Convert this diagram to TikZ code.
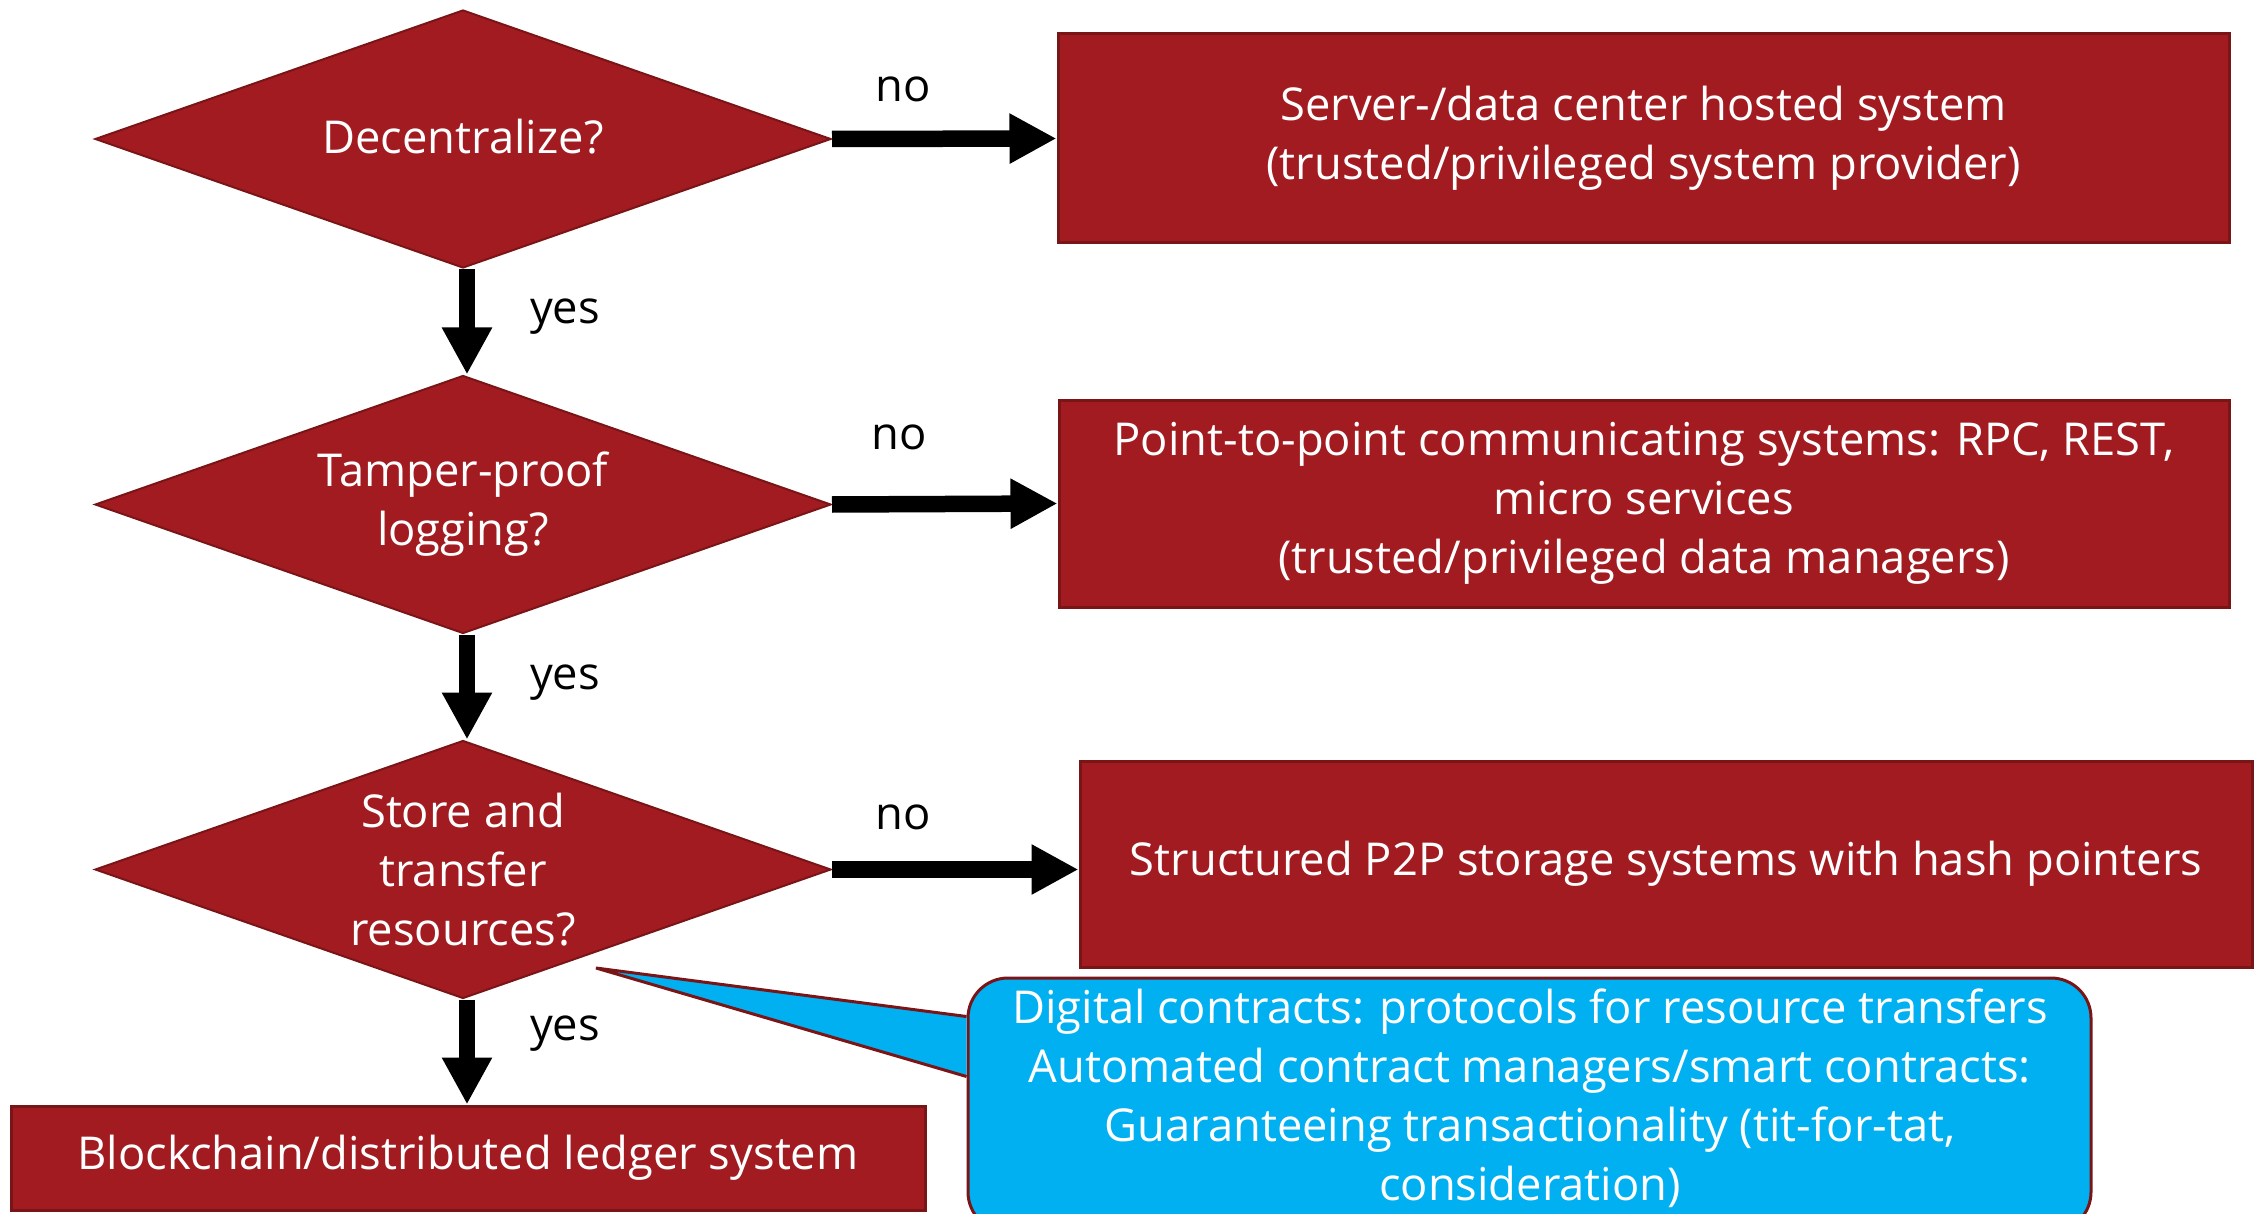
\documentclass[tikz,border=0pt]{standalone}
\usepackage{fontspec}
\setmainfont{Open Sans}
\usetikzlibrary{shapes.geometric,arrows.meta,calc}
\definecolor{boxred}{HTML}{A21B20}
\definecolor{edgered}{HTML}{7A1517}
\definecolor{callblue}{HTML}{00B0F0}
\begin{document}
\begin{tikzpicture}[x=1pt,y=-1pt,
 base/.style={font=\fontsize{45.3}{59}\selectfont, align=center, text=white},
 decision/.style={base, shape=diamond, fill=boxred, draw=edgered, line width=2pt,
   minimum width=736pt, minimum height=258pt, shape aspect=2.85, inner sep=0pt},
 result/.style={base, rectangle, fill=boxred, draw=edgered, line width=3pt, inner sep=0pt},
 callbox/.style={rectangle, rounded corners=40pt, fill=callblue, draw=edgered, line width=3pt},
 flow/.style={line width=16.5pt, -{Triangle[length=47pt,width=47pt]}},
 lbl/.style={font=\fontsize{45.3}{59}\selectfont, text=black}]
\useasboundingbox (0,0) rectangle (2259,1214);
\clip (0,0) rectangle (2259,1214);

% decisions
\node[decision] (d1) at (463,139) {\raisebox{5pt}{Decentralize?}};
\node[decision] (d2) at (463,504.5) {Tamper-proof\\logging?};
\node[decision] (d3) at (463,869.5) {Store and\\transfer\\resources?};

% results
\node[result, minimum width=1171pt, minimum height=209pt] (b1) at (1643.5,138.5)
  {Server-/data center hosted system\\(trusted/privileged system provider)};
\node[result, minimum width=1170pt, minimum height=207pt] (b2) at (1644,503.5)
  {Point-to-point communicating systems: RPC, REST,\\micro services\\(trusted/privileged data managers)};
\node[result, minimum width=1172pt, minimum height=206pt] (b3) at (1666,864)
  {Structured P2P storage systems with hash pointers};
\node[result, minimum width=914pt, minimum height=104pt] (b4) at (468,1158)
  {Blockchain/distributed ledger system};

% connectors
\draw[flow] (d1.east) -- (b1.west);
\draw[flow] (d2.east) -- (b2.west);
\draw[flow] (d3.east) -- (d3.east -| b3.west);
\draw[flow] ([xshift=4pt]d1.south) -- ([xshift=4pt]d2.north);
\draw[flow] ([xshift=4pt]d2.south) -- ([xshift=4pt]d3.north);
\draw[flow] ([xshift=4pt]d3.south) -- ([xshift=4pt]d3.south |- b4.north);

% labels
\node[lbl] (n1) at (903,89) {no};
\node[lbl] (n2) at (899,437) {no};
\node[lbl] (n3) at (903,817) {no};
\node[lbl] (y1) at (565,317) {yes};
\node[lbl] (y2) at (565,683) {yes};
\node[lbl] (y3) at (565,1034) {yes};

% callout
\node[callbox, minimum width=1123pt, minimum height=254pt] (co) at (1529.5,1105) {};
\coordinate (tip) at (596,968);
\fill[callblue] ($(co.north west)+(0,40)$) -- (tip) -- ($(co.north west)+(0,100)$) -- cycle;
\draw[edgered, line width=3pt, line join=miter] ($(co.north west)+(0,40)$) -- (tip) -- ($(co.north west)+(0,100)$);
\node[base] (cot) at (1530,1098)
  {Digital contracts: protocols for resource transfers\\Automated contract managers/smart contracts:\\Guaranteeing transactionality (tit-for-tat,\\consideration)};
\end{tikzpicture}
\end{document}
